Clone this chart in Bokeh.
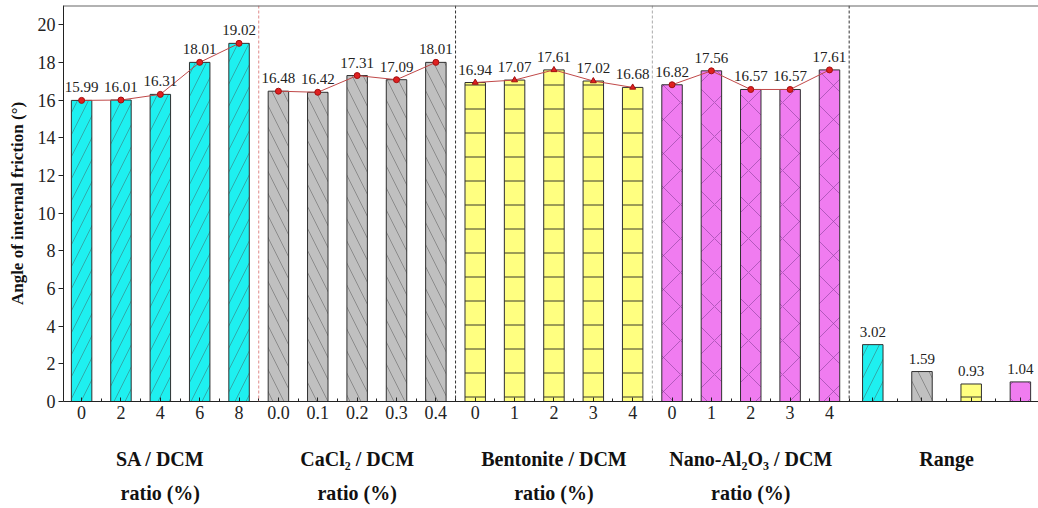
from bokeh.plotting import figure
from bokeh.models import Range1d, FixedTicker, Span, ColumnDataSource, LinearAxis
from bokeh.core.properties import value
from bokeh.embed import file_html
from bokeh.resources import INLINE

# ---------------- data ----------------
sa_labels = ["0", "2", "4", "6", "8"]
sa_vals = [15.99, 16.01, 16.31, 18.01, 19.02]
cacl_labels = ["0.0", "0.1", "0.2", "0.3", "0.4"]
cacl_vals = [16.48, 16.42, 17.31, 17.09, 18.01]
bent_labels = ["0", "1", "2", "3", "4"]
bent_vals = [16.94, 17.07, 17.61, 17.02, 16.68]
nano_labels = ["0", "1", "2", "3", "4"]
nano_vals = [16.82, 17.56, 16.57, 16.57, 17.61]
range_vals = [3.02, 1.59, 0.93, 1.04]
group_titles = ["SA / DCM", "CaCl\u2082 / DCM", "Bentonite / DCM", "Nano-Al\u2082O\u2083 / DCM"]
group_subtitle = "ratio (%)"
range_title = "Range"
y_title = "Angle of internal friction (\u00b0)"

# ---------------- styles ----------------
fills = ["#1EF0F0", "#C0C0C0", "#FFFF80", "#F07CF0"]
hatches = ["/", "\\", "-", "x"]
hatch_colors = ["#3a7a7a", "#666666", "#222222", "#8a409a"]
hatch_scales = [22, 22, 24, 34]
hatch_weights = [0.6, 0.6, 0.9, 0.6]
markers = ["circle", "circle", "triangle", "circle"]
divider_colors = ["#e08a8a", "#333333", "#aaaaaa", "#333333"]

SERIF = "Liberation Serif"

groups = [(sa_labels, sa_vals), (cacl_labels, cacl_vals),
          (bent_labels, bent_vals), (nano_labels, nano_vals)]

Y_END = 21.03
p = figure(width=1038, height=508, output_backend="svg", toolbar_location=None,
           x_range=Range1d(0.54, 25.31), y_range=Range1d(0, Y_END),
           min_border_left=63, min_border_right=0, min_border_top=5,
           min_border_bottom=107)
p.grid.visible = False
p.outline_line_color = None
p.background_fill_color = "white"
p.border_fill_color = "white"

ticks, overrides, minor = [], {}, []
title_ticks, title_over = [], {}
sub_ticks, sub_over = [], {}
BW = 0.52

for g, (labels, vals) in enumerate(groups):
    xs = [1 + 5 * g + i for i in range(len(vals))]
    src = ColumnDataSource(dict(x=xs, top=vals, txt=["%.2f" % v for v in vals]))
    p.vbar(x="x", top="top", width=BW, bottom=0, source=src,
           fill_color=fills[g], line_color="#303030", line_width=1,
           hatch_pattern=hatches[g], hatch_color=hatch_colors[g],
           hatch_scale=hatch_scales[g], hatch_weight=hatch_weights[g])
    p.line(xs, vals, line_color="#c04848", line_width=1)
    p.scatter(xs, vals, marker=markers[g], size=6, fill_color="#e02020",
              line_color="#a01010")
    p.text(x="x", y="top", text="txt", source=src, text_align="center",
           text_baseline="middle", y_offset=-13, text_font=value(SERIF),
           text_font_size="15px", text_color="#222222")
    for x, lab in zip(xs, labels):
        ticks.append(x)
        overrides[x] = lab
        minor.append(x + 0.5)
    minor.append(xs[0] - 0.5)
    p.add_layout(Span(location=xs[-1] + 0.5, dimension="height",
                      line_color=divider_colors[g], line_dash="3 2", line_width=1))
    title_ticks.append(xs[2])
    title_over[xs[2]] = group_titles[g]
    sub_ticks.append(xs[2])
    sub_over[xs[2]] = group_subtitle

# range bars
rx = [21.1 + 1.25 * i for i in range(len(range_vals))]
rsrc = ColumnDataSource(dict(x=rx, top=range_vals, txt=["%.2f" % v for v in range_vals]))
for i in range(len(range_vals)):
    p.vbar(x=[rx[i]], top=[range_vals[i]], width=BW, bottom=0,
           fill_color=fills[i], line_color="#303030", line_width=1,
           hatch_pattern=hatches[i], hatch_color=hatch_colors[i],
           hatch_scale=hatch_scales[i], hatch_weight=hatch_weights[i])
    ticks.append(rx[i])
    overrides[rx[i]] = ""
    minor.append(rx[i] + 0.625)
p.text(x="x", y="top", text="txt", source=rsrc, text_align="center",
       text_baseline="middle", y_offset=-13, text_font=value(SERIF),
       text_font_size="15px", text_color="#222222")
rc = (rx[1] + rx[2]) / 2
title_ticks.append(rc)
title_over[rc] = range_title

# top frame line
p.add_layout(Span(location=Y_END, dimension="width", line_color="#666666",
                  line_width=2))

# main x axis
xa = p.xaxis[0]
xa.ticker = FixedTicker(ticks=ticks, minor_ticks=minor)
xa.major_label_overrides = overrides
xa.major_tick_in = 4
xa.major_tick_out = 0
xa.minor_tick_in = 3
xa.minor_tick_out = 0
xa.axis_line_color = "#222222"
xa.major_tick_line_color = "#222222"
xa.minor_tick_line_color = "#222222"
xa.major_label_text_font = SERIF
xa.major_label_text_font_size = "18px"
xa.major_label_text_color = "#222222"
xa.major_label_standoff = 4


def label_axis(tks, over, standoff):
    ax = LinearAxis(ticker=FixedTicker(ticks=tks, minor_ticks=[]),
                    major_label_overrides=over)
    ax.axis_line_color = None
    ax.major_tick_in = 0
    ax.major_tick_out = 0
    ax.minor_tick_in = 0
    ax.minor_tick_out = 0
    ax.major_label_standoff = standoff
    ax.major_label_text_font = SERIF
    ax.major_label_text_font_size = "20px"
    ax.major_label_text_font_style = "bold"
    ax.major_label_text_color = "#111111"
    p.add_layout(ax, "below")
    return ax


label_axis(title_ticks, title_over, 26)
label_axis(sub_ticks, sub_over, 9)

ya = p.yaxis[0]
ya.ticker = FixedTicker(ticks=list(range(0, 21, 2)), minor_ticks=[])
ya.major_tick_out = 5
ya.major_tick_in = 0
ya.axis_line_color = "#222222"
ya.major_tick_line_color = "#222222"
ya.major_label_text_font = SERIF
ya.major_label_text_font_size = "18px"
ya.major_label_text_color = "#222222"
ya.major_label_standoff = 3
ya.axis_label = y_title
ya.axis_label_text_font = SERIF
ya.axis_label_text_font_size = "17px"
ya.axis_label_text_font_style = "bold"
ya.axis_label_text_color = "#111111"
ya.axis_label_standoff = 8

open("out.html", "w").write(file_html(p, INLINE))
